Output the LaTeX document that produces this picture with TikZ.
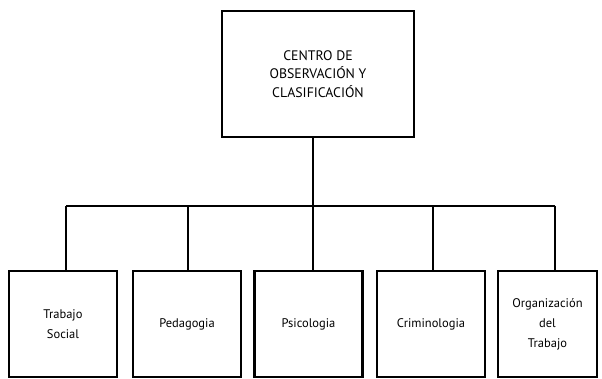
\documentclass[tikz,border=0pt]{standalone}
\usepackage{fontspec}
\setmainfont{PT Sans}
\begin{document}
\begin{tikzpicture}[x=1pt,y=-1pt,
  boxstyle/.style={draw=black, line width=2.4pt, align=center, inner sep=0pt, fill=white},
  topbox/.style={boxstyle, minimum width=192pt, minimum height=126pt, font=\fontsize{13.8}{18.5}\selectfont},
  botbox/.style={boxstyle, minimum width=108pt, minimum height=106pt, font=\fontsize{12.5}{20}\selectfont},
  link/.style={draw=black, line width=1.3pt}]
\useasboundingbox (0,0) rectangle (602,379);
\node[topbox] (top) at (318,74) {CENTRO DE\\OBSERVACIÓN Y\\CLASIFICACIÓN};
\node[botbox] (b1) at (63,324) {Trabajo\\Social};
\node[botbox] (b2) at (187,324) {Pedagogia};
\node[botbox] (b3) at (308.5,324) {Psicologia};
\node[botbox] (b4) at (431,324) {Criminologia};
\node[botbox, minimum width=99pt] (b5) at (547.5,324) {Organización\\del\\Trabajo};
\coordinate (h1) at (66,206);
\coordinate (h2) at (188,206);
\coordinate (h3) at (313,206);
\coordinate (h4) at (433,206);
\coordinate (h5) at (555,206);
\draw[link] (h1) -- (h5);
\draw[link] (h3 |- top.south) -- (h3) -- (h3 |- b3.north);
\foreach \i in {1,2,4,5} { \draw[link] (h\i) -- (h\i |- b\i.north); }
\end{tikzpicture}
\end{document}
